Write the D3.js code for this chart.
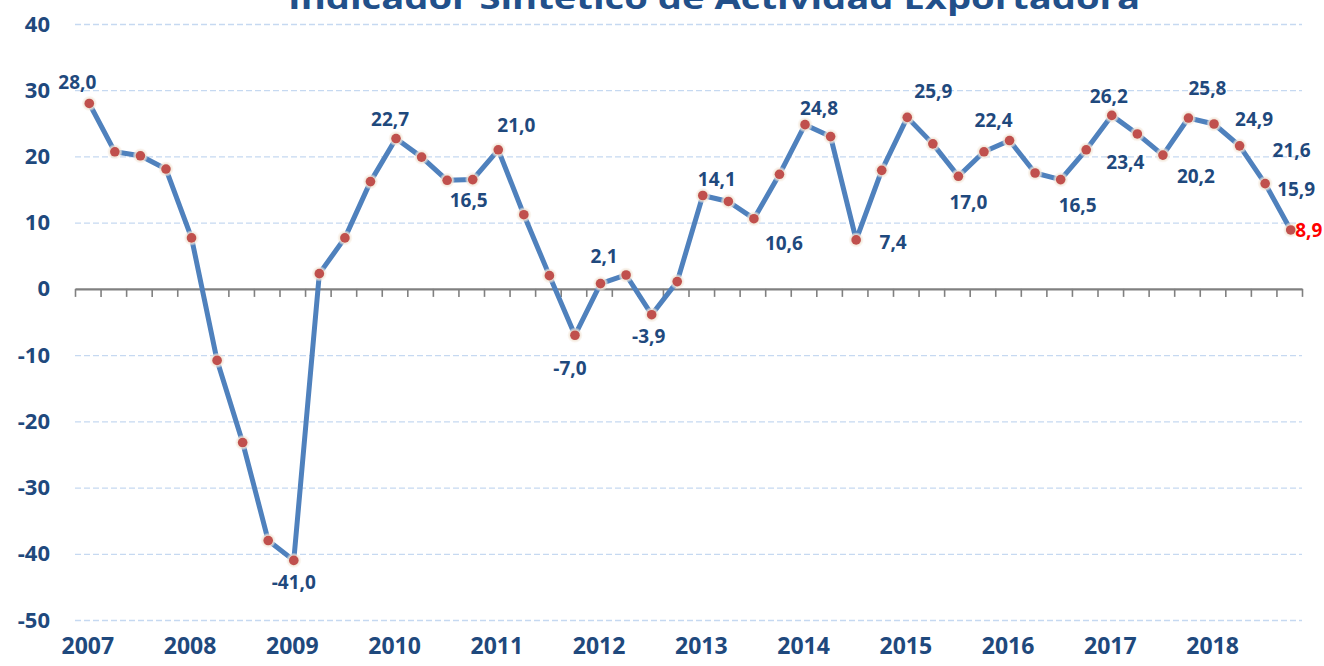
<!DOCTYPE html>
<html>
<head>
<meta charset="utf-8">
<script src="https://cdn.jsdelivr.net/npm/d3@7"></script>
<style>
  html, body { margin: 0; padding: 0; background: #fff; }
  svg { display: block; }
</style>
</head>
<body>
<svg id="chart" width="1324" height="666"></svg>
<script>
// ---- data ----
const title = "Indicador Sintético de Actividad Exportadora";
const years = [2007, 2008, 2009, 2010, 2011, 2012, 2013, 2014, 2015, 2016, 2017, 2018];
const quarters = ["I", "II", "III", "IV"];
const values = [
  28.0, 20.7, 20.1, 18.1,
  7.7, -10.8, -23.2, -38.0,
  -41.0, 2.3, 7.7, 16.2,
  22.7, 19.9, 16.4, 16.5,
  21.0, 11.2, 2.0, -7.0,
  0.8, 2.1, -3.9, 1.1,
  14.1, 13.2, 10.6, 17.3,
  24.8, 23.0, 7.4, 17.9,
  25.9, 21.9, 17.0, 20.7,
  22.4, 17.5, 16.5, 21.0,
  26.2, 23.4, 20.2, 25.8,
  24.9, 21.6, 15.9, 8.9
];
const yTicks = [40, 30, 20, 10, 0, -10, -20, -30, -40, -50];
// indices of points that carry a data label
const labeled = [0, 8, 12, 15, 16, 19, 21, 22, 24, 26, 28, 30, 32, 34, 36, 38, 40, 41, 42, 43, 44, 45, 46, 47];

// ---- layout (label placement offsets relative to the point, px) ----
const labelOffset = {
  0: [-12, -21], 8: [0, 22], 12: [-6, -19], 15: [-4, 21], 16: [18, -25],
  19: [-5, 33], 21: [-22, -19], 22: [-3, 21], 24: [14, -16], 26: [30, 24],
  28: [14, -16], 30: [37, 2], 32: [26, -26], 34: [10, 26], 36: [-16, -20],
  38: [17, 26], 40: [-3, -19], 41: [-12, 28], 42: [33, 21], 43: [19, -30],
  44: [40, -5], 45: [52, 4], 46: [31, 6], 47: [18, 0]
};

const categories = [];
years.forEach(yr => quarters.forEach(q => categories.push(yr + "-" + q)));
const data = categories.map((c, i) => ({ cat: c, value: values[i], i }));

const svg = d3.select("#chart");
const mLeft = 75, mRight = 1302, mTop = 24, mBottom = 620;
const FONT = "'Open Sans', 'DejaVu Sans', sans-serif";
const DARK = "#1F497D";

const x = d3.scaleBand().domain(categories).range([mLeft, mRight]).padding(0);
const xIdx = d3.scaleLinear().domain([0, categories.length]).range([mLeft, mRight]);
const y = d3.scaleLinear().domain([-50, 40]).range([mBottom, mTop]);

// gridlines
const grid = svg.append("g")
  .attr("transform", `translate(${mLeft},0)`)
  .call(d3.axisLeft(y).tickValues(yTicks.filter(v => v !== 0)).tickSize(-(mRight - mLeft)).tickFormat(""));
grid.select(".domain").remove();
grid.selectAll(".tick line")
  .attr("stroke", "#C6D9F1")
  .attr("stroke-width", 1.3)
  .attr("stroke-dasharray", "6,3");

// y labels
const yAxis = svg.append("g")
  .attr("transform", `translate(${mLeft},0)`)
  .call(d3.axisLeft(y).tickValues(yTicks).tickSize(0).tickPadding(25).tickFormat(d3.format("d")));
yAxis.select(".domain").remove();
yAxis.selectAll("text")
  .attr("fill", DARK)
  .attr("font-family", FONT)
  .attr("font-weight", "bold")
  .attr("font-size", 22)
  .text(d => String(d));

// zero axis with ticks at category boundaries
const zAxis = svg.append("g")
  .attr("transform", `translate(0,${y(0)})`)
  .call(d3.axisBottom(xIdx).tickValues(d3.range(0, categories.length + 1)).tickSize(8).tickSizeOuter(0).tickFormat(""));
zAxis.select(".domain").attr("stroke", "#808080").attr("stroke-width", 2.2);
zAxis.selectAll(".tick line").attr("stroke", "#808080").attr("stroke-width", 1.6);

// year labels
const xAxis = svg.append("g")
  .attr("transform", `translate(0,${mBottom + 18})`)
  .call(d3.axisBottom(x)
    .tickValues(categories.filter(c => c.endsWith("-I")))
    .tickSize(0).tickPadding(0)
    .tickFormat(c => c.split("-")[0]));
xAxis.select(".domain").remove();
xAxis.selectAll("text")
  .attr("fill", DARK)
  .attr("font-family", FONT)
  .attr("font-weight", "bold")
  .attr("font-size", 23)
  .attr("dy", "0.71em")
  .attr("y", 0);

const cx = d => x(d.cat) + x.bandwidth() / 2 + 1.5;

// line
const line = d3.line().x(cx).y(d => y(d.value));
svg.append("path")
  .datum(data)
  .attr("fill", "none")
  .attr("stroke", "#4F81BD")
  .attr("stroke-width", 5)
  .attr("stroke-linejoin", "round")
  .attr("d", line);

// markers
const defs = svg.append("defs");
const grad = defs.append("radialGradient").attr("id", "halo");
grad.append("stop").attr("offset", "0%").attr("stop-color", "#EFDFCC").attr("stop-opacity", 1);
grad.append("stop").attr("offset", "65%").attr("stop-color", "#F1E4D4").attr("stop-opacity", 0.95);
grad.append("stop").attr("offset", "100%").attr("stop-color", "#F5EBE0").attr("stop-opacity", 0.25);

const mk = svg.append("g");
mk.selectAll("circle.halo").data(data).join("circle")
  .attr("class", "halo")
  .attr("cx", cx).attr("cy", d => y(d.value))
  .attr("r", 7.5).attr("fill", "url(#halo)");
mk.selectAll("circle.dot").data(data).join("circle")
  .attr("class", "dot")
  .attr("cx", cx).attr("cy", d => y(d.value))
  .attr("r", 4.8).attr("fill", "#C0504D");

// data labels
const fmt = v => d3.format(".1f")(v).replace(".", ",").replace("\u2212", "-");
svg.append("g").selectAll("text").data(data.filter(d => labeled.includes(d.i))).join("text")
  .attr("x", d => cx(d) + labelOffset[d.i][0])
  .attr("y", d => y(d.value) + labelOffset[d.i][1])
  .attr("dy", "0.36em")
  .attr("text-anchor", "middle")
  .attr("font-family", FONT)
  .attr("font-weight", "bold")
  .attr("font-size", 19)
  .attr("fill", d => d.i === categories.length - 1 ? "#FF0000" : DARK)
  .text(d => fmt(d.value));

// title (partially cut off at top)
svg.append("text")
  .attr("x", 288).attr("y", 9)
  .attr("textLength", 852)
  .attr("lengthAdjust", "spacingAndGlyphs")
  .attr("font-family", FONT)
  .attr("font-weight", "bold")
  .attr("font-size", 31)
  .attr("fill", "#22508A")
  .text(title);
</script>
</body>
</html>
